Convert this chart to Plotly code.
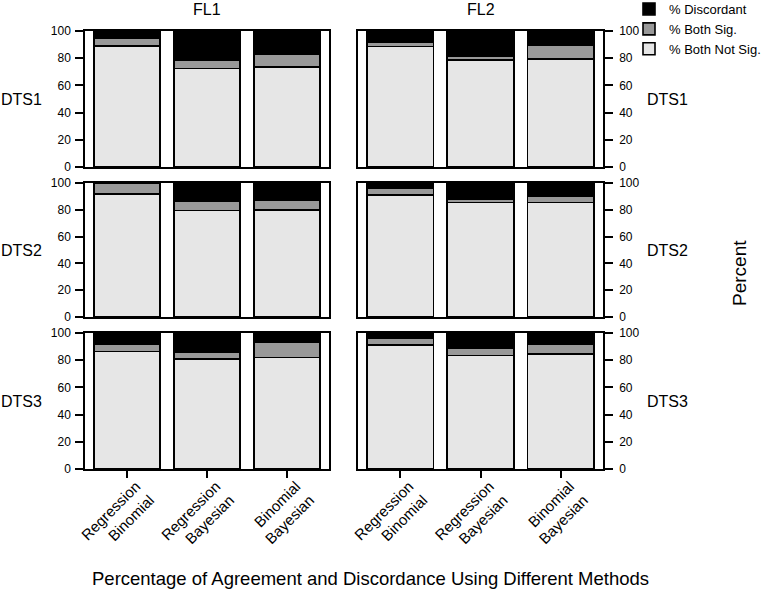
import plotly.graph_objects as go

# ---------------- data ----------------
methods = ["Regression<br>Binomial", "Regression<br>Bayesian", "Binomial<br>Bayesian"]
fl_levels = ["FL1", "FL2"]
dts_levels = ["DTS1", "DTS2", "DTS3"]
series_names = ["% Both Not Sig.", "% Both Sig.", "% Discordant"]

# rows = DTS1, DTS2, DTS3 ; values per method
both_not_sig_fl1 = [[89.0, 72.5, 73.5], [92.0, 79.5, 80.0], [86.5, 81.0, 82.0]]
both_not_sig_fl2 = [[88.5, 78.5, 79.5], [91.0, 85.5, 85.5], [91.0, 83.5, 84.5]]
both_sig_fl1 = [[6.0, 6.0, 9.5], [7.5, 7.0, 7.0], [5.5, 5.0, 11.5]]
both_sig_fl2 = [[3.5, 3.0, 10.0], [5.0, 2.5, 5.0], [5.0, 5.0, 7.5]]
discordant_fl1 = [[5.0, 21.5, 17.0], [0.5, 13.5, 13.0], [8.0, 14.0, 6.5]]
discordant_fl2 = [[8.0, 18.5, 10.5], [4.0, 12.0, 9.5], [4.0, 11.5, 8.0]]

y_ticks = [0, 20, 40, 60, 80, 100]

# ---------------- layout helpers ----------------
W, H = 776, 589
FONT = "Liberation Sans, Arial, Helvetica, sans-serif"
colors = ["#e6e6e6", "#999999", "#000000"]

col_px = [(85, 329), (358, 603)]
row_px = [(31, 167), (183, 317), (333, 469)]


def xd(a, b):
    return [a / W, b / W]


def yd(t, b):
    return [1 - b / H, 1 - t / H]


values = {
    0: [both_not_sig_fl1, both_sig_fl1, discordant_fl1],
    1: [both_not_sig_fl2, both_sig_fl2, discordant_fl2],
}

fig = go.Figure()
layout_axes = {}
for r in range(3):
    for c in range(2):
        idx = r * 2 + c + 1
        xs = "x" if idx == 1 else f"x{idx}"
        ys = "y" if idx == 1 else f"y{idx}"
        for s in range(3):
            fig.add_trace(go.Bar(
                x=methods,
                y=values[c][s][r],
                name=series_names[s],
                legendgroup=series_names[s],
                showlegend=(idx == 1),
                marker=dict(color=colors[s], line=dict(color="black", width=1.6)),
                width=0.83,
                xaxis=xs, yaxis=ys,
            ))
        layout_axes[f"xaxis{idx}"] = dict(
            domain=xd(*col_px[c]), anchor=ys, type="category",
            categoryorder="array", categoryarray=methods,
            range=[-0.525, 2.525], showline=True, mirror=True,
            linecolor="black", linewidth=1.5, showgrid=False, zeroline=False,
            ticks="outside" if r == 2 else "", ticklen=7, tickwidth=1.5,
            tickcolor="black", showticklabels=(r == 2), tickangle=-45,
            ticklabelshift=9, ticklabelstandoff=-6,
            automargin=False,
            tickfont=dict(size=15, color="black", family=FONT),
        )
        layout_axes[f"yaxis{idx}"] = dict(
            domain=yd(*row_px[r]), anchor=xs, range=[0, 100],
            side="left" if c == 0 else "right",
            tickvals=y_ticks, ticks="outside", ticklen=8, tickwidth=1.5,
            tickcolor="black", showline=True, mirror=True, linecolor="black",
            linewidth=1.5, showgrid=False, zeroline=False,
            ticklabelstandoff=2 if c == 0 else 4, automargin=False,
            tickfont=dict(size=12, color="black", family=FONT),
        )

annotations = []
# strip titles
for c, name in enumerate(fl_levels):
    annotations.append(dict(
        text=name, x=(col_px[c][0] + col_px[c][1]) / 2 / W, y=1 - 9 / H,
        xref="paper", yref="paper", showarrow=False, xanchor="center",
        yanchor="middle", font=dict(size=16, color="black", family=FONT)))
# row labels
for r, name in enumerate(dts_levels):
    yc = 1 - (row_px[r][0] + row_px[r][1]) / 2 / H
    annotations.append(dict(
        text=name, x=21 / W, y=yc, xref="paper", yref="paper",
        showarrow=False, xanchor="center", yanchor="middle",
        font=dict(size=16, color="black", family=FONT)))
    annotations.append(dict(
        text=name, x=667 / W, y=yc, xref="paper", yref="paper",
        showarrow=False, xanchor="center", yanchor="middle",
        font=dict(size=16, color="black", family=FONT)))
# axis titles
annotations.append(dict(
    text="Percent", x=739 / W, y=1 - 273 / H, xref="paper", yref="paper",
    showarrow=False, textangle=-90, xanchor="center", yanchor="middle",
    font=dict(size=19, color="black", family=FONT)))
annotations.append(dict(
    text="Percentage of Agreement and Discordance Using Different Methods",
    x=370 / W, y=1 - 578 / H, xref="paper", yref="paper", showarrow=False,
    xanchor="center", yanchor="middle",
    font=dict(size=18.5, color="black", family=FONT)))

fig.update_layout(
    width=W, height=H,
    margin=dict(l=0, r=0, t=0, b=0, pad=0, autoexpand=False),
    barmode="stack",
    paper_bgcolor="white", plot_bgcolor="white",
    font=dict(family=FONT, color="black"),
    legend=dict(x=629 / W, y=1 + 6 / H, xanchor="left", yanchor="top",
                traceorder="reversed", bgcolor="rgba(0,0,0,0)",
                font=dict(size=13, color="black", family=FONT)),
    annotations=annotations,
    **layout_axes,
)

fig.write_html(
    "out.html",
    config={"displayModeBar": False},
    post_script="document.body.style.margin='0';document.body.style.padding='0';",
)
